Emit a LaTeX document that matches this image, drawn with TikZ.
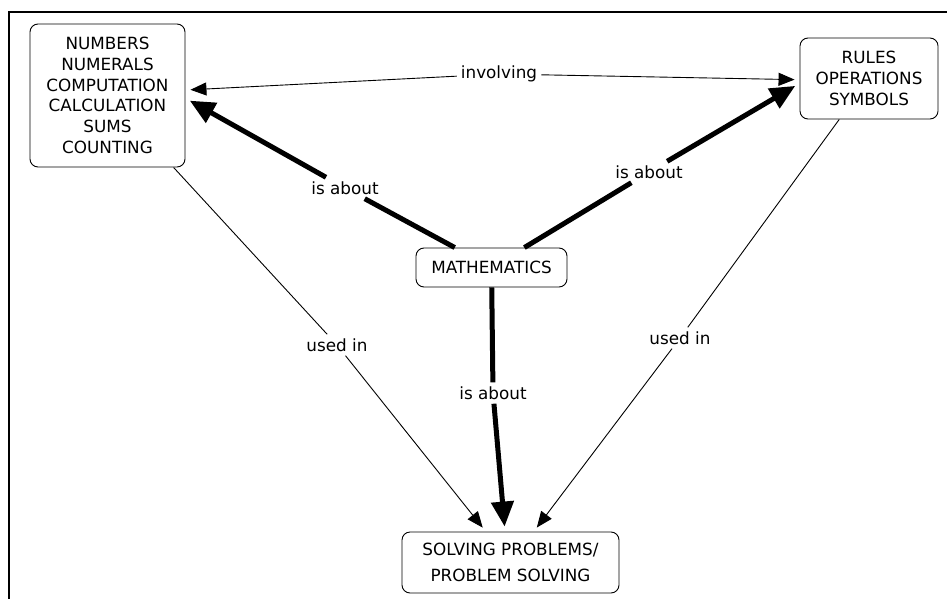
\documentclass[tikz,border=0pt]{standalone}
\usepackage{fontspec}
\setmainfont{DejaVu Sans}
\usetikzlibrary{arrows.meta}

\begin{document}
\begin{tikzpicture}[
    x=1pt, y=-1pt,
    concept/.style={draw, rectangle, rounded corners=8pt, fill=white,
                    line width=0.9pt, align=center, inner sep=0pt,
                    font=\fontsize{16.8}{20.7}\selectfont},
    link/.style={fill=white, inner sep=4pt, font=\fontsize{16.8}{20.7}\selectfont},
    fine/.style={line width=0.9pt},
    fineto/.style={fine, shorten >=5pt, -{Triangle[length=16pt,width=13pt]}},
    heavy/.style={line width=5pt},
    heavyto/.style={heavy, shorten >=5pt, -{Triangle[length=25pt,width=22pt]}}
]
    \useasboundingbox (0,0) rectangle (947,599);

    % Frame
    \draw[line width=2pt] (9,599) -- (9,12) -- (947,12);

    % Concepts
    \node[concept, minimum width=155pt, minimum height=143pt] (nums) at (107.5,95.5)
        {NUMBERS\\NUMERALS\\COMPUTATION\\CALCULATION\\SUMS\\COUNTING};
    \node[concept, minimum width=138pt, minimum height=81pt] (rules) at (869,78.5)
        {RULES\\OPERATIONS\\SYMBOLS};
    \node[concept, minimum width=151pt, minimum height=39pt] (math) at (491.5,267.5)
        {MATHEMATICS};
    \node[concept, minimum width=217pt, minimum height=61pt] (solve) at (510.5,562.5)
        {SOLVING PROBLEMS/\\[6pt]PROBLEM SOLVING};

    % Linking phrases
    \node[link] (inv) at (499,74) {involving};
    \node[link] (about1) at (345,188) {is about};
    \node[link] (about2) at (649,172) {is about};
    \node[link] (about3) at (493,393) {is about};
    \node[link] (used1) at (337,345) {used in};
    \node[link] (used2) at (680,338) {used in};

    % Links
    \draw[fineto] (inv) -- (nums.4);
    \draw[fineto] (inv) -- (rules.181);

    \draw[heavy] (math) -- (about1);
    \draw[heavyto] (about1) -- (nums.-2);
    \draw[heavy] (math) -- (about2);
    \draw[heavyto] (about2) -- (rules.184);
    \draw[heavy] (math) -- (about3);
    \draw[heavyto] (about3) -- (solve.100);

    \draw[fine] (nums) -- (used1);
    \draw[fineto] (used1) -- (solve);
    \draw[fine] (rules) -- (used2);
    \draw[fineto] (used2) -- (solve);
\end{tikzpicture}
\end{document}
